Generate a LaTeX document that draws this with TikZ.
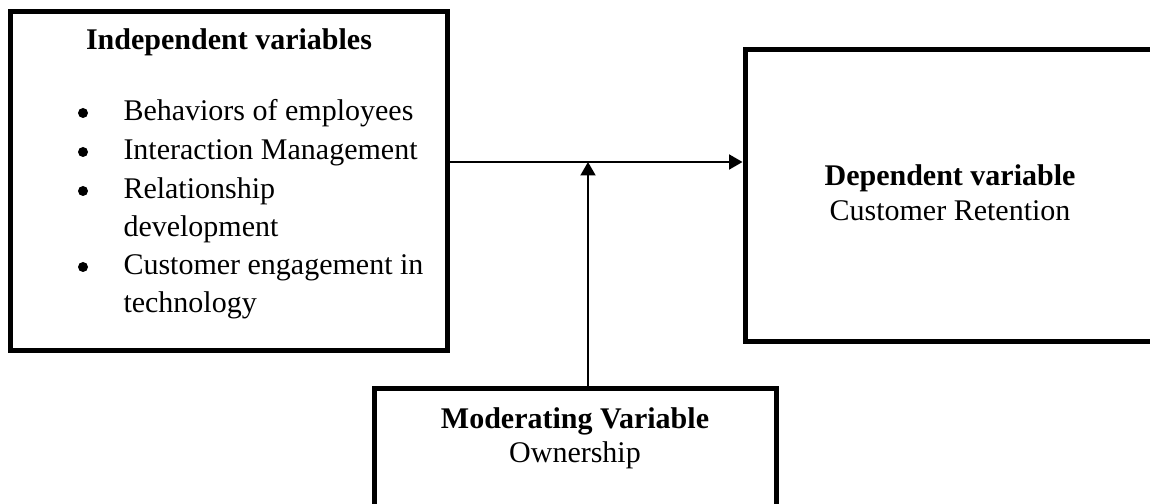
\documentclass[tikz,border=0pt]{standalone}
\usepackage{fontspec}
\setmainfont{Liberation Serif}
\usetikzlibrary{arrows.meta,positioning}

\begin{document}
\begin{tikzpicture}[>={Triangle[length=5.4pt,width=6pt]},x=0.4pt,y=-0.4pt,
  varbox/.style={draw,line width=2pt,inner sep=0pt},
  txt/.style={inner sep=0pt,font=\fontsize{12pt}{15.4pt}\selectfont},
  head/.style={inner sep=0pt,font=\fontsize{12pt}{15.4pt}\selectfont\bfseries},
  dot/.style={circle,fill,inner sep=0pt,minimum size=4pt},
  link/.style={->,line width=0.8pt}]
\useasboundingbox (0,0) rectangle (1150,504);
% boxes
\node[varbox,minimum width=174.4pt,minimum height=135.2pt] (indep) at (229,181) {};
\node[varbox,minimum width=164pt,minimum height=116.8pt] (dep) at (950,196) {};
\node[varbox,minimum width=160.8pt,minimum height=56.4pt] (moder) at (575,459.5) {};
% independent variables
\node[head,anchor=base] (indephead) at (229,50) {Independent variables};
\node[dot] (b1) at (83,113) {};
\node[dot] (b2) at (83,152) {};
\node[dot] (b3) at (83,191) {};
\node[dot] (b4) at (83,267) {};
\node[txt,anchor=base west] (i1) at (123,121) {Behaviors of employees};
\node[txt,anchor=base west] (i2) at (123,160) {Interaction Management};
\node[txt,anchor=base west] (i3) at (123,199) {Relationship};
\node[txt,anchor=base west] (i3b) at (123,237) {development};
\node[txt,anchor=base west] (i4) at (123,275) {Customer engagement in};
\node[txt,anchor=base west] (i4b) at (123,313) {technology};
% dependent variable
\node[head,anchor=base] (dephead) at (950,186) {Dependent variable};
\node[txt,anchor=base] (deptext) at (950,221) {Customer Retention};
% moderating variable
\node[head,anchor=base] (moderhead) at (575,429) {Moderating Variable};
\node[txt,anchor=base] (modertext) at (575,462) {Ownership};
% connectors
\coordinate (join) at (588,162);
\draw[link] (indep.east |- join) -- (dep.west |- join);
\draw[link] (moder.north -| join) -- (join);
\end{tikzpicture}
\end{document}
